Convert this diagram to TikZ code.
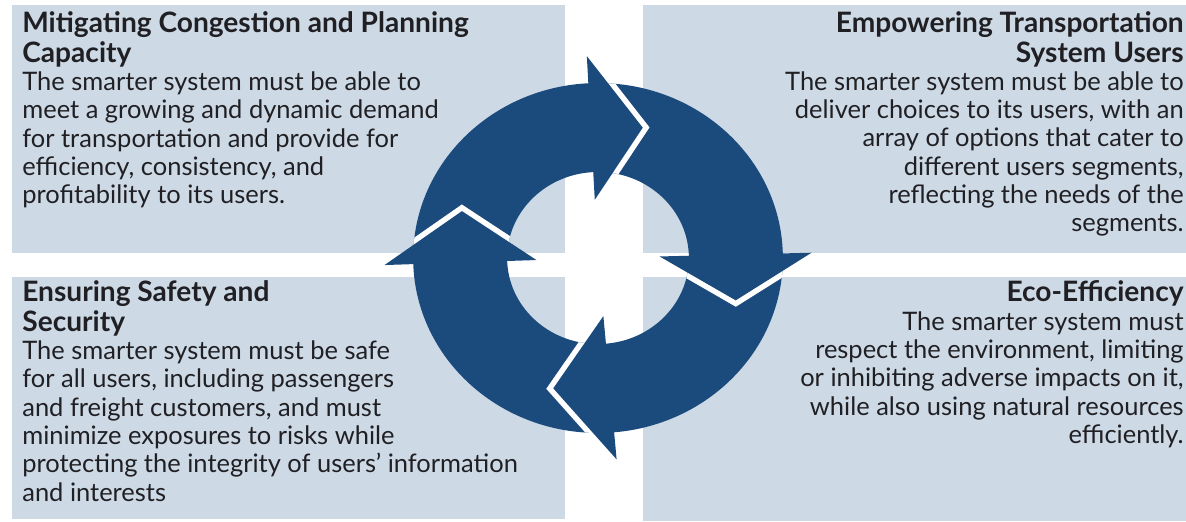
\documentclass[tikz,border=0pt]{standalone}
\usepackage{fontspec}
\setmainfont{Lato}
\definecolor{panel}{RGB}{205,217,229}
\definecolor{ringblue}{RGB}{27,74,125}
\definecolor{txt}{RGB}{32,32,36}
\newcommand\bodyfnt{\fontsize{14.5}{16.1}\selectfont}
\newcommand\titlefnt{\fontsize{16}{16.1}\selectfont\bfseries}
\begin{document}
\begin{tikzpicture}[x=0.02cm,y=0.02cm,
  panelbox/.style={fill=panel},
  ringfill/.style={fill=ringblue},
  gapline/.style={draw=white,line width=0.22cm,line join=miter,miter limit=20},
  txtnode/.style={inner sep=0pt,text=txt}]
\useasboundingbox[fill=white] (0,0) rectangle (1186,521);
% panels
\fill[panelbox] (12,268) rectangle (565,516);
\fill[panelbox] (643,268) rectangle (1186,516);
\fill[panelbox] (12,2) rectangle (565,244);
\fill[panelbox] (643,0) rectangle (1186,244);
% cycle of arrows
\begin{scope}[shift={(598,263)},xscale=1.027,yscale=0.972]
  \fill[ringfill,even odd rule] (0,0) circle[radius=180] (0,0) circle[radius=88.5];
  \begin{scope}[even odd rule]
    \clip (0,0) circle[radius=180] (0,0) circle[radius=88.5];
    \foreach \b/\t in {182/160, 93/72, 1.5/-18, -85/-108}{
      \draw[gapline] (\b:208) -- (\t:141) -- (\b:60);
    }
  \end{scope}
  \foreach \b/\t in {182/160, 93/72, 1.5/-18, -85/-108}{
    \fill[ringfill] (\b:208) -- (\t:141) -- (\b:60) -- cycle;
  }
\end{scope}
% texts
\node[txtnode,anchor=base west] (tl) at (22,488) {\bodyfnt\begin{tabular}[t]{@{}l@{}}
{\titlefnt Mitigating Congestion and Planning}\\
{\titlefnt Capacity}\\
The smarter system must be able to\\
meet a growing and dynamic demand\\
for transportation and provide for\\
efficiency, consistency, and\\
profitability to its users.
\end{tabular}};
\node[txtnode,anchor=base east] (tr) at (1184,488) {\bodyfnt\begin{tabular}[t]{@{}r@{}}
{\titlefnt Empowering Transportation}\\
{\titlefnt System Users}\\
The smarter system must be able to\\
deliver choices to its users, with an\\
array of options that cater to\\
different users segments,\\
reflecting the needs of the\\
segments.
\end{tabular}};
\node[txtnode,anchor=base west] (bl) at (22,219) {\bodyfnt\begin{tabular}[t]{@{}l@{}}
{\titlefnt Ensuring Safety and}\\
{\titlefnt Security}\\
The smarter system must be safe\\
for all users, including passengers\\
and freight customers, and must\\
minimize exposures to risks while\\
protecting the integrity of users’ information\\
and interests
\end{tabular}};
\node[txtnode,anchor=base east] (br) at (1184,219) {\bodyfnt\begin{tabular}[t]{@{}r@{}}
{\titlefnt Eco-Efficiency}\\
The smarter system must\\
respect the environment, limiting\\
or inhibiting adverse impacts on it,\\
while also using natural resources\\
efficiently.
\end{tabular}};
\end{tikzpicture}
\end{document}
